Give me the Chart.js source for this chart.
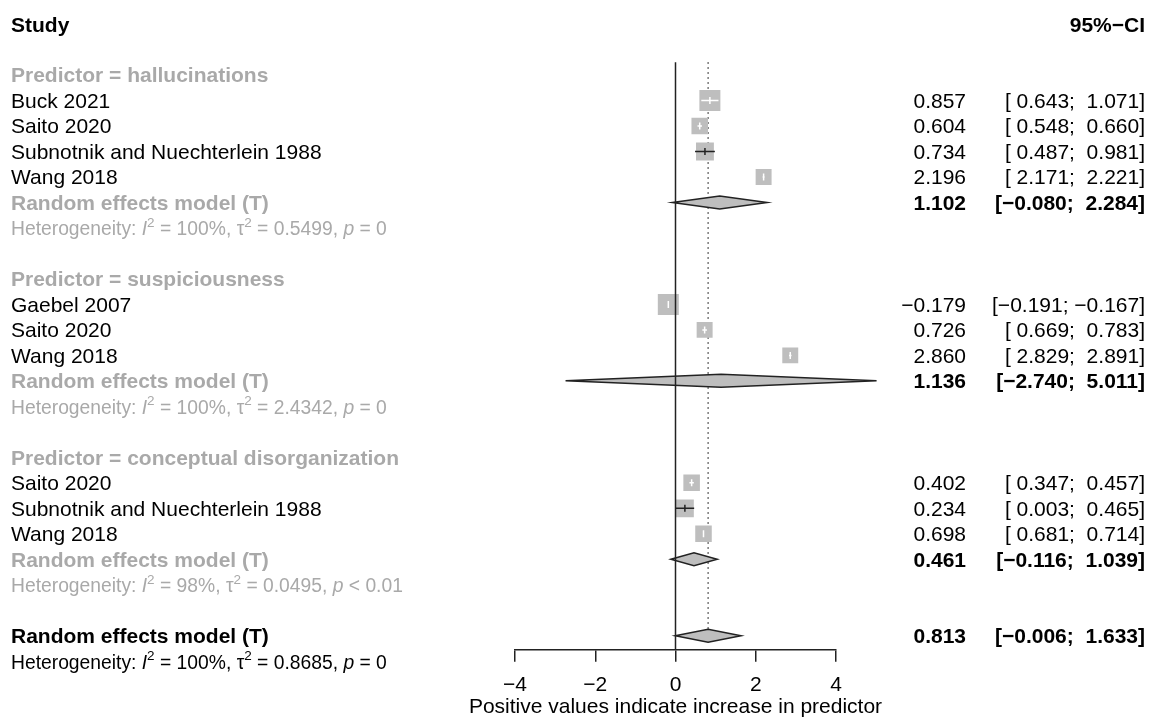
<!DOCTYPE html>
<html>
<head>
<meta charset="utf-8">
<script src="https://cdn.jsdelivr.net/npm/chart.js@4.4.1/dist/chart.umd.min.js"></script>
<style>
  body { margin: 0; background: #fff; }
  #wrap { width: 1150px; height: 720px; }
</style>
</head>
<body>
<div id="wrap"><canvas id="forest" width="1150" height="720"></canvas></div>
<script>
// subgroups
const groupNames = ['hallucinations', 'suspiciousness', 'conceptual disorganization'];
const groupEst = [1.102, 1.136, 0.461];
const groupLower = [-0.080, -2.740, -0.116];
const groupUpper = [2.284, 5.011, 1.039];
const groupI2 = ['100%', '100%', '98%'];
const groupTau2 = ['0.5499', '2.4342', '0.0495'];
const groupP = ['= 0', '= 0', '< 0.01'];

// studies
const studyNames = ['Buck 2021', 'Saito 2020', 'Subnotnik and Nuechterlein 1988', 'Wang 2018',
    'Gaebel 2007', 'Saito 2020', 'Wang 2018',
    'Saito 2020', 'Subnotnik and Nuechterlein 1988', 'Wang 2018'];
const studyGroup = [0, 0, 0, 0, 1, 1, 1, 2, 2, 2];
const studyEst = [0.857, 0.604, 0.734, 2.196, -0.179, 0.726, 2.860, 0.402, 0.234, 0.698];
const studyLower = [0.643, 0.548, 0.487, 2.171, -0.191, 0.669, 2.829, 0.347, 0.003, 0.681];
const studyUpper = [1.071, 0.660, 0.981, 2.221, -0.167, 0.783, 2.891, 0.457, 0.465, 0.714];
const studyWeight = [14.2, 8.8, 10.3, 8.2, 14.2, 8.2, 8.2, 8.8, 10.3, 8.8];

// overall
const overallEst = 0.813;
const overallLower = -0.006;
const overallUpper = 1.633;
const overallI2 = '100%';
const overallTau2 = '0.8685';
const overallP = '= 0';

const xTicks = [-4, -2, 0, 2, 4];
const xTitle = 'Positive values indicate increase in predictor';

const FONT = '"Liberation Sans", Arial, Helvetica, sans-serif';
const GREY = '#a9a9a9';
const DIA_H = 6.5;
const MAX_BOX = 21;

function fmt(v) { return (v < 0 ? '\u2212' : '') + Math.abs(v).toFixed(3); }
function padNum(v) { return (v < 0 ? '' : ' ') + fmt(v); }
function ciText(lo, hi) { return '[' + padNum(lo) + '; ' + padNum(hi) + ']'; }

// lay out rows top to bottom
const rows = [];
const studyRow = [];
let r = 0;
groupNames.forEach(function (g, gi) {
    rows.push({ kind: 'group', row: r++, gi: gi });
    studyGroup.forEach(function (sg, i) {
        if (sg === gi) { studyRow[i] = r; rows.push({ kind: 'study', row: r++, i: i }); }
    });
    rows.push({ kind: 'pooled', row: r++, gi: gi });
    rows.push({ kind: 'het', row: r++, gi: gi });
    r++;
});
const overallRow = r;
rows.push({ kind: 'overall', row: r++ });
rows.push({ kind: 'overallHet', row: r++ });

const maxW = Math.max.apply(null, studyWeight);
const boxSide = studyWeight.map(w => MAX_BOX * Math.sqrt(w / maxW));

function drawHet(ctx, x, y, i2, tau2, p, color) {
    const parts = [
        ['Heterogeneity: ', 'n'], ['I', 'i'], ['2', 's'], [' = ' + i2 + ', ', 'n'],
        ['\u03c4', 'n'], ['2', 's'], [' = ' + tau2 + ', ', 'n'], ['p', 'i'], [' ' + p, 'n']
    ];
    ctx.fillStyle = color;
    ctx.textAlign = 'left';
    parts.forEach(function (pt) {
        let yy = y;
        if (pt[1] === 'i') ctx.font = 'italic 19.3px ' + FONT;
        else if (pt[1] === 's') { ctx.font = '13.5px ' + FONT; yy = y - 8.5; }
        else ctx.font = '19.3px ' + FONT;
        ctx.fillText(pt[0], x, yy);
        x += ctx.measureText(pt[0]).width;
    });
}

function drawDiamond(ctx, xs, yp, est, lo, hi) {
    ctx.beginPath();
    ctx.moveTo(xs.getPixelForValue(lo), yp);
    ctx.lineTo(xs.getPixelForValue(est), yp - DIA_H);
    ctx.lineTo(xs.getPixelForValue(hi), yp);
    ctx.lineTo(xs.getPixelForValue(est), yp + DIA_H);
    ctx.closePath();
    ctx.fillStyle = '#bebebe';
    ctx.fill();
    ctx.strokeStyle = '#222';
    ctx.lineWidth = 1.5;
    ctx.stroke();
}

const forestPlugin = {
    id: 'forest',
    beforeDatasetsDraw(chart) {
        const ctx = chart.ctx, xs = chart.scales.x, ys = chart.scales.y;
        const xp = xs.getPixelForValue(overallEst);
        ctx.save();
        ctx.strokeStyle = '#333';
        ctx.lineWidth = 1.3;
        ctx.setLineDash([1.4, 3.6]);
        ctx.beginPath();
        ctx.moveTo(xp, ys.getPixelForValue(-0.5));
        ctx.lineTo(xp, ys.getPixelForValue(overallRow) - DIA_H);
        ctx.stroke();
        ctx.restore();
    },
    afterDatasetsDraw(chart) {
        const ctx = chart.ctx, xs = chart.scales.x, ys = chart.scales.y;
        ctx.save();

        // confidence intervals
        studyEst.forEach(function (e, i) {
            const yp = ys.getPixelForValue(studyRow[i]);
            const x1 = xs.getPixelForValue(studyLower[i]);
            const x2 = xs.getPixelForValue(studyUpper[i]);
            const xe = xs.getPixelForValue(e);
            ctx.strokeStyle = (x2 - x1) < boxSide[i] ? '#fff' : '#222';
            ctx.lineWidth = 1.5;
            ctx.beginPath();
            ctx.moveTo(x1, yp); ctx.lineTo(x2, yp);
            ctx.moveTo(xe, yp - 3.5); ctx.lineTo(xe, yp + 3.5);
            ctx.stroke();
        });

        // pooled diamonds
        groupEst.forEach(function (e, gi) {
            const row = rows.find(o => o.kind === 'pooled' && o.gi === gi).row;
            drawDiamond(ctx, xs, ys.getPixelForValue(row), e, groupLower[gi], groupUpper[gi]);
        });
        drawDiamond(ctx, xs, ys.getPixelForValue(overallRow), overallEst, overallLower, overallUpper);

        // line of no effect
        const x0 = xs.getPixelForValue(0);
        ctx.strokeStyle = '#222';
        ctx.lineWidth = 1.5;
        ctx.beginPath();
        ctx.moveTo(x0, ys.getPixelForValue(-0.5));
        ctx.lineTo(x0, chart.chartArea.bottom);
        ctx.stroke();

        // axis title, centred under the scale
        ctx.font = '21px ' + FONT;
        ctx.fillStyle = '#000';
        ctx.textAlign = 'center';
        ctx.fillText(xTitle, (xs.left + xs.right) / 2, chart.chartArea.bottom + 63.5);

        // text columns
        const LX = 11, EX = 966, CX = 1145;
        const base = row => ys.getPixelForValue(row) + 7.5;
        ctx.fillStyle = '#000';
        ctx.font = 'bold 21px ' + FONT;
        ctx.textAlign = 'left';
        ctx.fillText('Study', LX, base(-2));
        ctx.textAlign = 'right';
        ctx.fillText('95%\u2212CI', CX, base(-2));

        rows.forEach(function (o) {
            const y = base(o.row);
            if (o.kind === 'group') {
                ctx.font = 'bold 21px ' + FONT;
                ctx.fillStyle = GREY;
                ctx.textAlign = 'left';
                ctx.fillText('Predictor = ' + groupNames[o.gi], LX, y);
            } else if (o.kind === 'study') {
                ctx.font = '21px ' + FONT;
                ctx.fillStyle = '#000';
                ctx.textAlign = 'left';
                ctx.fillText(studyNames[o.i], LX, y);
                ctx.textAlign = 'right';
                ctx.fillText(fmt(studyEst[o.i]), EX, y);
                ctx.fillText(ciText(studyLower[o.i], studyUpper[o.i]), CX, y);
            } else if (o.kind === 'pooled' || o.kind === 'overall') {
                const g = o.gi;
                const e = o.kind === 'pooled' ? groupEst[g] : overallEst;
                const lo = o.kind === 'pooled' ? groupLower[g] : overallLower;
                const hi = o.kind === 'pooled' ? groupUpper[g] : overallUpper;
                ctx.font = 'bold 21px ' + FONT;
                ctx.fillStyle = o.kind === 'pooled' ? GREY : '#000';
                ctx.textAlign = 'left';
                ctx.fillText('Random effects model (T)', LX, y);
                ctx.fillStyle = '#000';
                ctx.textAlign = 'right';
                ctx.fillText(fmt(e), EX, y);
                ctx.fillText(ciText(lo, hi), CX, y);
            } else if (o.kind === 'het') {
                drawHet(ctx, LX, y, groupI2[o.gi], groupTau2[o.gi], groupP[o.gi], GREY);
            } else if (o.kind === 'overallHet') {
                drawHet(ctx, LX, y, overallI2, overallTau2, overallP, '#000');
            }
        });
        ctx.restore();
    }
};

const studyPoints = studyEst.map((e, i) => ({ x: e, y: studyRow[i] }));

new Chart(document.getElementById('forest'), {
    type: 'scatter',
    data: {
        datasets: [{
            data: studyPoints,
            pointStyle: 'rect',
            pointRadius: boxSide.map(s => s / Math.SQRT2),
            pointHoverRadius: boxSide.map(s => s / Math.SQRT2),
            backgroundColor: '#bebebe',
            borderWidth: 0
        }]
    },
    options: {
        responsive: false,
        animation: false,
        events: [],
        layout: { padding: { left: 515, right: 314, top: 24, bottom: 11 } },
        plugins: { legend: { display: false }, tooltip: { enabled: false } },
        scales: {
            x: {
                type: 'linear',
                min: -4,
                max: 4,
                afterBuildTicks: axis => { axis.ticks = xTicks.map(v => ({ value: v })); },
                grid: { drawOnChartArea: false, drawTicks: true, tickLength: 12, color: '#222', lineWidth: 1.5 },
                border: { display: true, color: '#222', width: 1.5 },
                ticks: {
                    color: '#000',
                    padding: 11,
                    font: { family: FONT, size: 21 },
                    callback: v => (v < 0 ? '\u2212' : '') + Math.abs(v)
                }
            },
            y: { type: 'linear', reverse: true, min: -2, max: 22.55, display: false }
        }
    },
    plugins: [forestPlugin]
});
</script>
</body>
</html>
